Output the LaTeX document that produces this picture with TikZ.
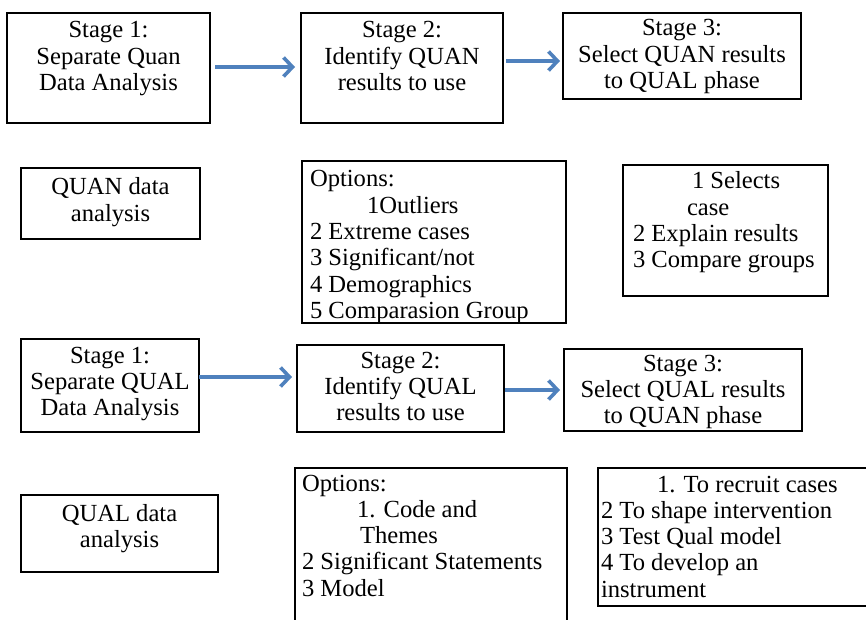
\documentclass[tikz,border=0pt]{standalone}
\usepackage{fontspec}
\setmainfont{Liberation Serif}
\usetikzlibrary{arrows.meta}
\definecolor{arrblue}{HTML}{4F81BD}
\newcommand{\ctxt}[2]{\parbox[t]{#1}{\centering #2}}
\newcommand{\ltxt}[2]{\parbox[t]{#1}{\raggedright #2}}
\tikzset{
  frame/.style={draw=black, line width=1.8pt, inner sep=0pt, outer sep=0pt, anchor=north west},
  txt/.style={inner sep=0pt, outer sep=0pt, font=\fontsize{24.6pt}{26.3pt}\selectfont},
  ctr/.style={txt, anchor=base},
  lft/.style={txt, anchor=base west},
  arr/.style={draw=arrblue, line width=3.6pt, -{Straight Barb[length=9pt, width=19pt]}}
}
\begin{document}
\begin{tikzpicture}[x=1pt, y=-1pt]
\useasboundingbox (0,0) rectangle (866,620);
\fill[white] (0,0) rectangle (866,620);

% top row
\node[frame, minimum width=203pt, minimum height=110pt] (a1) at (7,13) {};
\node[frame, minimum width=202pt, minimum height=110pt] (a2) at (301,13) {};
\node[frame, minimum width=238pt, minimum height=86pt] (a3) at (563,13) {};
\node[ctr] (a1t) at (108.5,38) {\ctxt{200pt}{Stage 1:\\Separate Quan\\Data Analysis}};
\node[ctr] (a2t) at (402,38) {\ctxt{200pt}{Stage 2:\\Identify QUAN\\results to use}};
\node[ctr] (a3t) at (682,36) {\ctxt{236pt}{Stage 3:\\Select QUAN results\\to QUAL phase}};

% middle row (QUAN)
\node[frame, minimum width=179pt, minimum height=71pt] (quan) at (21,168) {};
\node[frame, minimum width=264pt, minimum height=162pt] (opt1) at (302,161) {};
\node[frame, minimum width=205pt, minimum height=131pt] (sel) at (623,165) {};
\node[ctr] (quant) at (110.5,195) {\ctxt{176pt}{QUAN data\\analysis}};
\node[lft] (opt1t) at (310,187) {\ltxt{260pt}{Options:\\\hspace*{57pt}1Outliers\\2 Extreme cases\\3 Significant/not\\4 Demographics\\5 Comparasion Group}};
\node[lft] (selt) at (633,189) {\ltxt{200pt}{\hspace*{59pt}1 Selects\\\hspace*{54pt}case\\2 Explain results\\3 Compare groups}};

% bottom row
\node[frame, minimum width=178pt, minimum height=93pt] (b1) at (21,339) {};
\node[frame, minimum width=207pt, minimum height=87pt] (b2) at (297,345) {};
\node[frame, minimum width=238pt, minimum height=82pt] (b3) at (564,349) {};
\node[ctr] (b1t) at (110,363) {\ctxt{176pt}{Stage 1:\\Separate QUAL\\Data Analysis}};
\node[ctr] (b2t) at (400.5,368) {\ctxt{205pt}{Stage 2:\\Identify QUAL\\results to use}};
\node[ctr] (b3t) at (683,371) {\ctxt{236pt}{Stage 3:\\Select QUAL results\\to QUAN phase}};

% last row (QUAL)
\node[frame, minimum width=197pt, minimum height=77pt] (qual) at (21,495) {};
\node[frame, minimum width=272pt, minimum height=170pt] (opt2) at (295,468) {};
\node[frame, minimum width=290pt, minimum height=138pt] (rec) at (598,468) {};
\node[ctr] (qualt) at (119.5,521) {\ctxt{195pt}{QUAL data\\analysis}};
\node[lft] (opt2t) at (302,491) {\ltxt{270pt}{Options:\\\hspace*{55pt}1. Code and\\\hspace*{58pt}Themes\\2 Significant Statements\\3 Model}};
\node[lft] (rect) at (601,492) {\ltxt{270pt}{\hspace*{56pt}1. To recruit cases\\2 To shape intervention\\3 Test Qual model\\4 To develop an\\instrument}};

% arrows
\draw[arr, shorten <=5pt, shorten >=6pt] ([yshift=1pt]a1.east) -- ([yshift=1pt]a2.west);
\draw[arr, shorten <=3pt, shorten >=3pt] ([yshift=7pt]a2.east) -- ([yshift=-5pt]a3.west);
\draw[arr, shorten <=0pt, shorten >=5pt] ([yshift=8.5pt]b1.east) -- ([yshift=11.5pt]b2.west);
\draw[arr, shorten <=1pt, shorten >=4pt] ([yshift=-1.5pt]b2.east) -- (b3.west);
\end{tikzpicture}
\end{document}
